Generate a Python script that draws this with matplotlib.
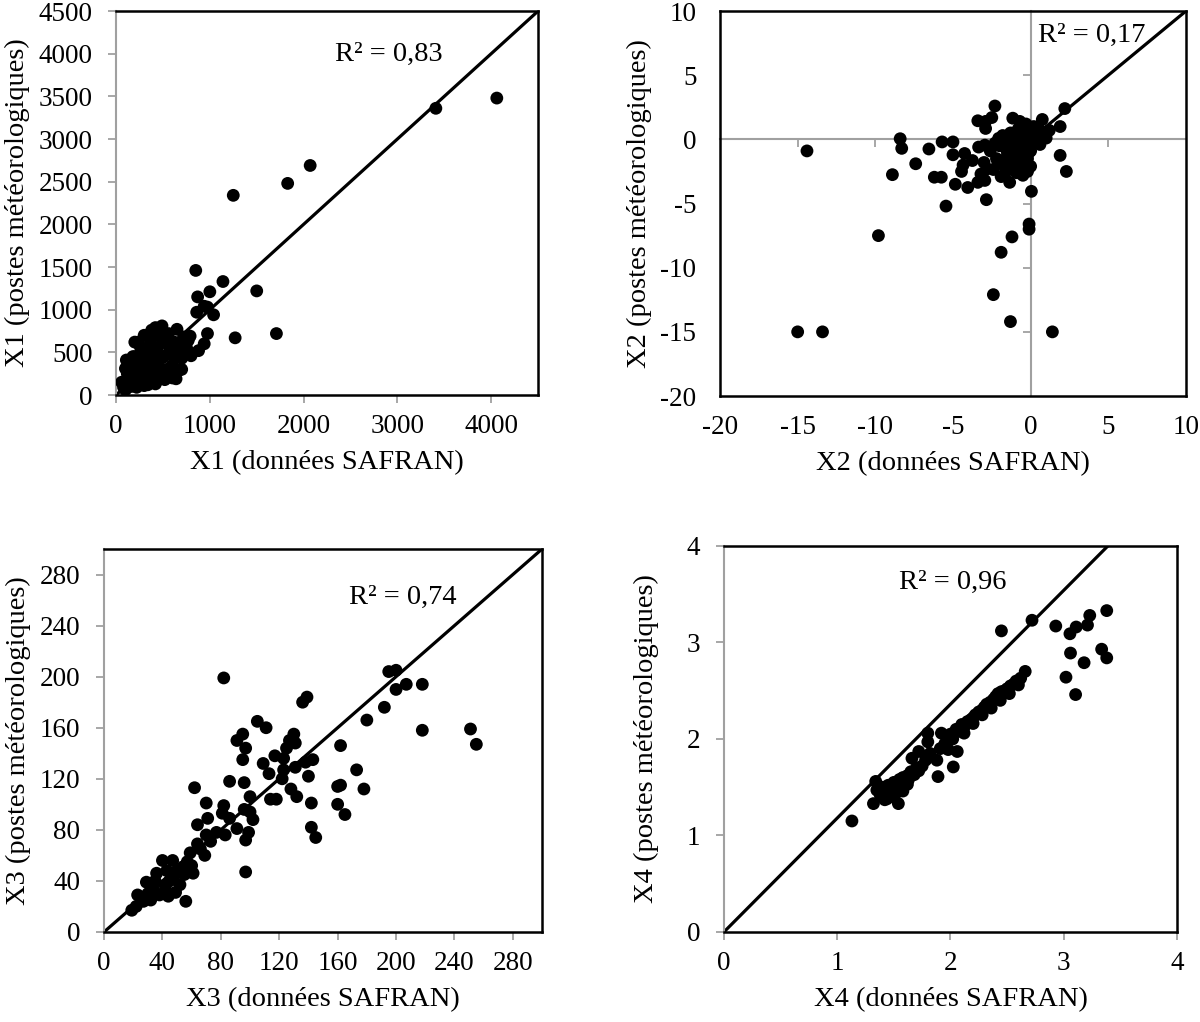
import matplotlib
matplotlib.use("Agg")
import matplotlib.pyplot as plt

plt.rcParams["font.family"] = ["Liberation Serif", "DejaVu Serif"]
plt.rcParams["axes.unicode_minus"] = False

GREY = "#a0a0a0"

# ---- X1 ----
x1_safran = [4060, 3410, 2070, 1830, 1250, 850, 1140, 1500, 1000, 870, 860, 940,
             1040, 975, 1710, 1270, 975, 940, 880, 800, 640, 650, 790, 770, 650,
             490, 420, 300, 200, 110, 100,
             120, 140, 150, 170, 180, 200, 210, 230, 250, 260, 270, 290, 300, 310,
             330, 340, 350, 370, 380, 400, 410, 430, 440, 450, 470, 490, 500, 520,
             540, 560, 580, 600, 620, 640, 660, 680, 700, 720, 750, 780, 560, 380,
             260, 180, 130, 160, 220, 300, 420, 520, 600, 700, 350, 460, 240, 80,
             60, 100, 150, 190, 230, 280, 320, 360, 400, 200, 250, 140, 330, 280,
             180, 120, 450, 390]
x1_postes = [3480, 3360, 2690, 2480, 2340, 1460, 1330, 1220, 1210, 1150, 970, 1040,
             940, 1030, 720, 670, 720, 600, 520, 460, 190, 440, 690, 640, 770,
             810, 790, 700, 620, 410, 310,
             160, 230, 120, 330, 200, 280, 140, 380, 210, 470, 320, 160, 540, 250,
             420, 120, 330, 600, 220, 480, 300, 160, 550, 380, 250, 650, 440, 180,
             300, 580, 480, 350, 620, 510, 280, 590, 430, 680, 560, 500, 720, 760,
             560, 450, 350, 100, 90, 110, 130, 240, 200, 300, 680, 700, 620, 90,
             150, 60, 200, 250, 300, 380, 200, 400, 250, 450, 350, 280, 280, 450,
             380, 250, 200, 150]

# ---- X2 ----
x2_safran = [-14.4, -15, -13.4, 1.4, -1.3, -2.4, -1.9, -1.2, -0.1, -0.1, -9.8, -5.45,
             -2.85, 0.05, 2.3, 1.9, 2.2, 1.9, 0.75, -2.3, -2.5, -3.4, -2.9, -1.15,
             -8.4, -8.3, -6.55, -5.7, -5.0, -7.4, -8.9, -6.2, -5.75, -4.85, -4.05,
             -5.0, -4.25, -3.75, -4.35, -4.45, -3.4, -2.95, -3.35, -2.95, -3.0,
             -2.4, -1.35, 0.0,
             -2.0, -1.8, -1.5, -1.3, -1.2, -1.0, -0.8, -0.8, -0.6, -0.5, -0.4, -0.3,
             -0.2, 0.0, 0.1, 0.3, 0.4, 0.6, 0.8, 1.0, 1.2, -1.6, -2.2, -1.9, -0.9,
             -0.2, -2.6, -0.7, 0.2, -1.1, -0.5, -1.4, -0.2, 0.5, -1.7, -2.8, -3.2,
             -2.06, -1.6, -2.9,
             -1.0, -0.6, -0.3, 0.0, -1.3, -0.9, -0.4, -1.7, -1.2, -0.7, -0.1, 0.3,
             -2.1, -1.5, -1.0, -0.5, -0.8, -0.3, 0.2, 0.6, -1.4, -2.3, -0.6, -1.1]
x2_postes = [-0.9, -15, -15, -15, -14.2, -12.1, -8.8, -7.6, -6.6, -7.0, -7.5, -5.2,
             -4.7, -4.05, -2.5, -1.25, 2.4, 1.0, 1.55, 2.6, 1.7, 1.45, 0.85, 1.65,
             0.05, -0.7, -0.75, -0.2, -0.2, -1.9, -2.75, -2.95, -2.95, -3.5, -3.75,
             -1.2, -1.1, -1.65, -2.0, -2.5, -3.35, -3.2, -0.6, -0.45, -1.8,
             -2.35, -3.35, -2.1,
             -0.5, 0.3, -1.0, 0.5, -1.8, -0.3, 0.8, -1.3, -2.2, 0.2, -0.8, 1.2,
             -1.5, 0.4, -0.3, 0.8, -0.1, 0.3, 0.5, 0.1, 0.7, -2.5, -1.5, -2.9, -2.6,
             -2.5, -0.9, 1.4, 1.0, 0.2, -0.5, -0.4, 0.0, 0.9, -1.6, -2.3, -2.7,
             0.08, 0.18, 1.4,
             -1.0, -1.7, -1.2, -0.9, -0.9, -2.0, 0.5, -2.0, -0.2, 0.0, -1.0, 0.2,
             -1.9, -1.4, -1.5, -2.8, -1.8, 0.9, 0.6, -0.4, -2.1, -0.3, -0.1, -2.4]

# ---- X3 ----
x3_safran = [82, 251, 255, 218, 218, 207, 200, 195, 200, 192, 180, 162, 173, 178, 160,
             162, 160, 165, 142, 145, 142, 140, 143, 138, 139, 136, 130, 131, 127, 125,
             131, 123, 123, 117, 109, 113, 105, 111, 95, 91, 97, 95, 96, 86, 122, 128,
             132, 114, 118, 100, 97, 62, 70, 82, 71, 64, 81, 86, 91, 97, 99, 102, 100,
             96, 83, 70, 64, 69, 59, 61, 56, 49, 52, 40, 47, 43, 50, 54, 36, 29, 34,
             38, 23, 27, 19, 22, 30, 45, 42, 55, 60, 35, 48, 57, 26, 32, 44, 66, 73,
             77]
x3_postes = [199, 159, 147, 194, 158, 194, 190, 204, 205, 176, 166, 146, 127, 112, 114,
             115, 100, 92, 82, 74, 101, 122, 135, 133, 184, 180, 155, 148, 150, 144,
             129, 127, 136, 138, 132, 124, 165, 160, 155, 150, 144, 135, 117, 118, 120,
             112, 106, 104, 104, 106, 47, 113, 101, 99, 89, 84, 93, 89, 81, 72, 78, 88,
             94, 96, 76, 76, 69, 60, 62, 46, 24, 31, 37, 56, 56, 48, 48, 51, 46, 39,
             33, 29, 29, 24, 17, 20, 30, 40, 36, 45, 52, 40, 44, 55, 27, 25, 28, 65,
             71, 78]

# ---- X4 ----
x4_safran = [1.13, 2.72, 2.45, 2.93, 3.055, 3.11, 3.23, 3.21, 3.38, 3.06, 3.335, 3.38,
             3.18, 3.02, 3.105,
             1.32, 1.34, 1.35, 1.42, 1.54, 1.38, 1.40, 1.43, 1.45, 1.47, 1.48, 1.50,
             1.52, 1.53, 1.55, 1.56, 1.58, 1.60, 1.62, 1.63, 1.65, 1.66, 1.68, 1.70,
             1.72, 1.72, 1.75, 1.78, 1.80, 1.80, 1.82, 1.88, 1.89, 1.91, 1.92, 1.98,
             2.025, 2.06, 2.00, 2.02, 2.05, 2.08, 2.10, 2.12, 2.15, 2.18, 2.20, 2.22,
             2.25, 2.28, 2.30, 2.32, 2.35, 2.38, 2.40, 2.42, 2.45, 2.48, 2.50, 2.53,
             2.56, 2.58, 2.62, 2.66, 2.60, 2.52, 2.44, 2.36, 2.28, 2.20, 2.12, 1.95,
             1.62, 1.58, 1.50, 1.44]
x4_postes = [1.15, 3.23, 3.12, 3.17, 3.09, 3.16, 3.28, 3.18, 3.33, 2.89, 2.93, 2.84,
             2.79, 2.64, 2.46,
             1.33, 1.56, 1.47, 1.37, 1.33, 1.42, 1.50, 1.45, 1.52, 1.48, 1.42, 1.55,
             1.50, 1.45, 1.58, 1.52, 1.60, 1.55, 1.62, 1.58, 1.66, 1.80, 1.63, 1.70,
             1.87, 1.67, 1.72, 1.78, 1.97, 2.06, 1.85, 1.78, 1.61, 1.90, 2.06, 1.89,
             1.71, 1.87, 2.05, 2.00, 2.10, 2.08, 2.15, 2.12, 2.18, 2.20, 2.22, 2.25,
             2.28, 2.30, 2.33, 2.36, 2.38, 2.41, 2.44, 2.47, 2.49, 2.50, 2.52, 2.55,
             2.57, 2.60, 2.63, 2.70, 2.56, 2.47, 2.40, 2.32, 2.25, 2.16, 2.06, 1.95,
             1.53, 1.46, 1.40, 1.38]

r2_labels = ["R² = 0,83", "R² = 0,17", "R² = 0,74", "R² = 0,96"]

TICK_FS = 19.5
LABEL_FS = 20.5


def style_axes(ax, grey_axes=True):
    for side in ["top", "right", "bottom", "left"]:
        ax.spines[side].set_color("black")
        ax.spines[side].set_linewidth(1.8)
    if grey_axes:
        ax.spines["left"].set_color(GREY)
        ax.spines["left"].set_linewidth(1.5)
    ax.tick_params(axis="both", labelsize=TICK_FS, color=GREY, length=6,
                   width=1.3, direction="out")
    ax.tick_params(axis="y", pad=11)
    ax.tick_params(axis="x", pad=8)


def scatter_panel(ax, xs, ys, diag, r2, r2_pos, xlabel, ylabel, ypad=6):
    ax.scatter(xs, ys, s=85, color="black", edgecolors="none", zorder=3)
    ax.plot(diag[0], diag[1], color="black", lw=2.3, zorder=2)
    ax.text(r2_pos[0], r2_pos[1], r2, fontsize=LABEL_FS, ha="left", va="center")
    ax.set_xlabel(xlabel, fontsize=LABEL_FS, labelpad=8)
    ax.set_ylabel(ylabel, fontsize=LABEL_FS, labelpad=ypad)


fig = plt.figure(figsize=(12, 10.22), dpi=100)

# panel 1
ax1 = fig.add_axes([0.0967, 0.6135, 0.3517, 0.3757])
scatter_panel(ax1, x1_safran, x1_postes, ([0, 4500], [0, 4500]), r2_labels[0],
              (2335, 3990), "X1 (données SAFRAN)", "X1 (postes météorologiques)")
ax1.set_xlim(0, 4500)
ax1.set_ylim(0, 4500)
ax1.set_xticks([0, 1000, 2000, 3000, 4000])
ax1.set_yticks(range(0, 4501, 500))
style_axes(ax1)

# panel 2
ax2 = fig.add_axes([0.6, 0.6125, 0.3883, 0.3767])
scatter_panel(ax2, x2_safran, x2_postes, ([0, 10], [0, 10]), r2_labels[1],
              (0.45, 8.1), "X2 (données SAFRAN)", "X2 (postes météorologiques)")
ax2.set_xlim(-20, 10)
ax2.set_ylim(-20, 10)
ax2.set_xticks(range(-20, 11, 5))
ax2.set_yticks(range(-20, 11, 5))
style_axes(ax2, grey_axes=False)
ax2.tick_params(axis="both", length=0)
ax2.tick_params(axis="y", pad=17)
ax2.tick_params(axis="x", pad=14)
zero = 20 / 30
secx = ax2.secondary_xaxis(zero)
secx.set_alignment("bottom")
secx.set_xticks([-15, -10, -5, 5])
secx.set_xticklabels([])
secx.spines["bottom"].set_color(GREY)
secx.spines["bottom"].set_linewidth(1.5)
secx.tick_params(color=GREY, length=6, width=1.3, direction="out")
secy = ax2.secondary_yaxis(zero)
secy.set_alignment("left")
secy.set_yticks([-15, -10, -5, 5])
secy.set_yticklabels([])
secy.spines["left"].set_color(GREY)
secy.spines["left"].set_linewidth(1.5)
secy.tick_params(color=GREY, length=6, width=1.3, direction="out")

# panel 3
ax3 = fig.add_axes([0.0867, 0.0881, 0.365, 0.3747])
scatter_panel(ax3, x3_safran, x3_postes, ([0, 300], [0, 300]), r2_labels[2],
              (168, 262), "X3 (données SAFRAN)", "X3 (postes météorologiques)")
ax3.set_xlim(0, 300)
ax3.set_ylim(0, 300)
ax3.set_xticks(range(0, 281, 40))
ax3.set_yticks(range(0, 281, 40))
style_axes(ax3)

# panel 4
ax4 = fig.add_axes([0.6033, 0.0881, 0.3775, 0.3777])
scatter_panel(ax4, x4_safran, x4_postes, ([0, 3.39], [0, 4]), r2_labels[3],
              (1.55, 3.62), "X4 (données SAFRAN)", "X4 (postes météorologiques)",
              ypad=20)
ax4.set_xlim(0, 4)
ax4.set_ylim(0, 4)
ax4.set_xticks(range(0, 5))
ax4.set_yticks(range(0, 5))
style_axes(ax4)

fig.savefig("out.png", dpi=100)
